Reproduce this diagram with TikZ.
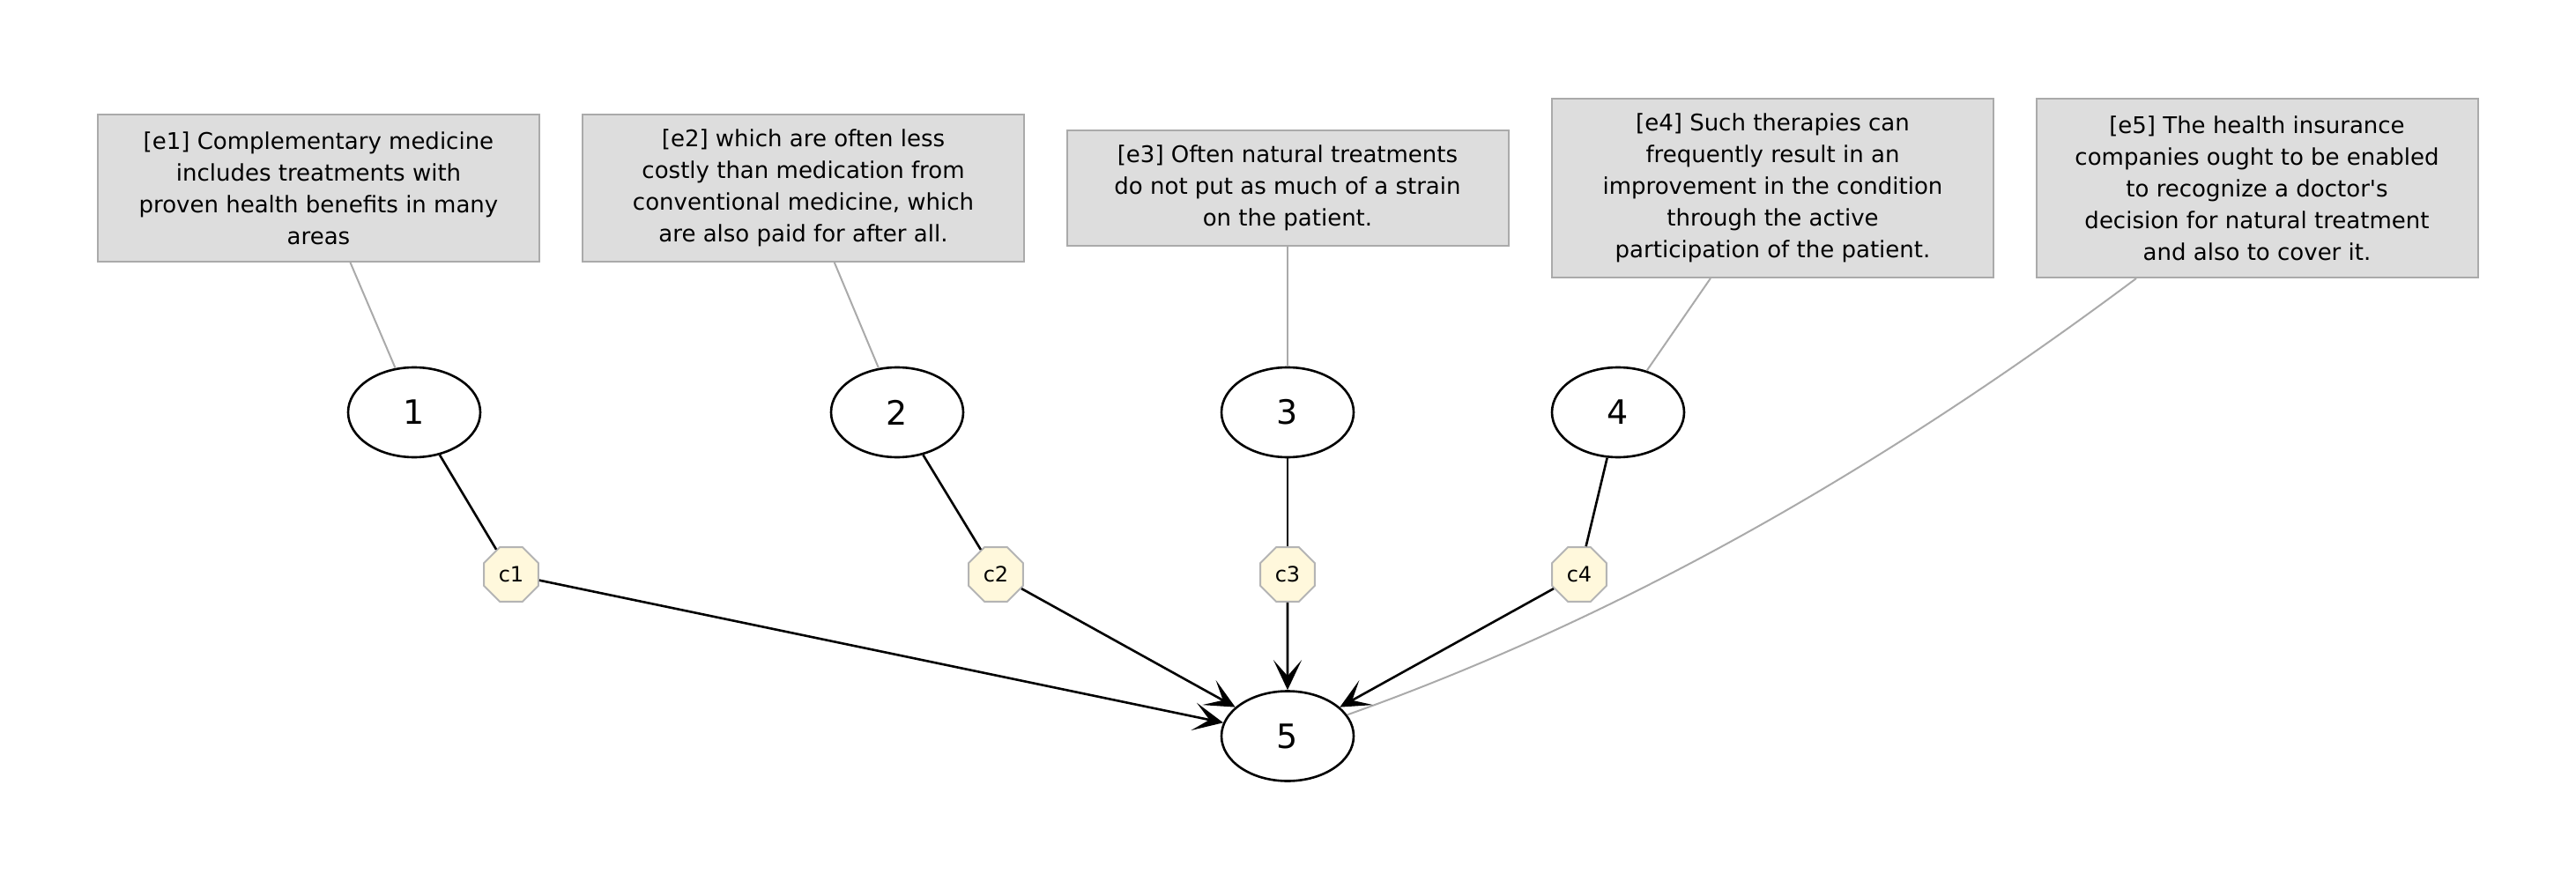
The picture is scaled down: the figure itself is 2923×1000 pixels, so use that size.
\documentclass[tikz,border=0pt]{standalone}
\usepackage{fontspec}
\setmainfont{DejaVu Sans}
\usetikzlibrary{shapes.geometric,arrows.meta}
\definecolor{boxfill}{HTML}{DDDDDD}
\definecolor{boxline}{HTML}{AAAAAA}
\definecolor{linkgray}{HTML}{AAAAAA}
\definecolor{octfill}{HTML}{FFF8DC}
\definecolor{octline}{HTML}{B4B4B4}
\tikzset{
  ebox/.style={rectangle, draw=boxline, fill=boxfill, line width=1pt,
    inner sep=0pt, align=center, minimum width=250.5pt,
    font=\fontsize{13}{18}\selectfont},
  claim/.style={ellipse, draw=black, line width=1.3pt, inner sep=0pt,
    minimum width=75pt, minimum height=51pt, font=\fontsize{19}{22}\selectfont},
  conn/.style={regular polygon, regular polygon sides=8, draw=octline,
    fill=octfill, line width=1pt, inner sep=0pt, minimum size=33.5pt,
    font=\fontsize{12}{14}\selectfont},
  evlink/.style={draw=linkgray, line width=1pt},
  support/.style={draw=black, line width=1.3pt},
  tip/.style={-{Stealth[length=17pt,width=16pt,inset=9pt]}}
}
\begin{document}
\begin{tikzpicture}[x=0.5pt,y=-0.5pt]
\useasboundingbox (0,0) rectangle (2923,1000);

% evidence boxes
\node[ebox, minimum height=83.5pt] (e1) at (361.5,213.5)
  {[e1] Complementary medicine\\includes treatments with\\proven health benefits in many\\areas};
\node[ebox, minimum height=83.5pt] (e2) at (911.5,213.5)
  {[e2] which are often less\\costly than medication from\\conventional medicine, which\\are also paid for after all.};
\node[ebox, minimum height=65.5pt] (e3) at (1461,213.5)
  {[e3] Often natural treatments\\do not put as much of a strain\\on the patient.};
\node[ebox, minimum height=101.5pt] (e4) at (2011.5,213.5)
  {[e4] Such therapies can\\frequently result in an\\improvement in the condition\\through the active\\participation of the patient.};
\node[ebox, minimum height=101.5pt] (e5) at (2561,213.5)
  {[e5] The health insurance\\companies ought to be enabled\\to recognize a doctor\textquotesingle s\\decision for natural treatment\\and also to cover it.};

% claims
\node[claim] (n1) at (470,468) {1};
\node[claim] (n2) at (1018,468) {2};
\node[claim] (n3) at (1461,468) {3};
\node[claim] (n4) at (1836,468) {4};
\node[claim] (n5) at (1461,835.5) {5};

% connectors
\node[conn] (c1) at (580,652) {c1};
\node[conn] (c2) at (1130,652) {c2};
\node[conn] (c3) at (1461,652) {c3};
\node[conn] (c4) at (1792,652) {c4};

% evidence links
\draw[evlink] (e1) -- (n1);
\draw[evlink] (e2) -- (n2);
\draw[evlink] (e3) -- (n3);
\draw[evlink] (e4) -- (n4);
\draw[evlink] (e5) .. controls (2123,541) and (1830,704) .. (n5);

% support edges
\draw[support] (n1) -- (c1);
\draw[support] (n2) -- (c2);
\draw[support] (n3) -- (c3);
\draw[support] (n4) -- (c4);
\draw[support, tip] (c1) -- (n5);
\draw[support, tip] (c2) -- (n5);
\draw[support, tip] (c3) -- (n5);
\draw[support, tip] (c4) -- (n5);
\end{tikzpicture}
\end{document}
